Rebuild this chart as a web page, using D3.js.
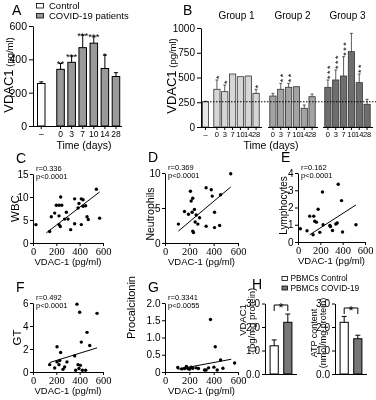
<!DOCTYPE html>
<html>
<head>
<meta charset="utf-8">
<script src="https://cdn.jsdelivr.net/npm/d3@7"></script>
<style>
  body { margin: 0; background: #fff; }
  svg { display: block; will-change: transform; }
</style>
</head>
<body>
<div id="chart"></div>
<script>
(function() {

    // ---- Panel A: VDAC1 in serum, control vs patients over time
    const daysA = ["0", "3", "7", "10", "14", "28"];
    const controlA = 255, controlAErr = 10;
    const vdacA = [340, 382, 470, 497, 345, 297];
    const vdacAErr = [35, 38, 75, 38, 80, 23];
    const starsA = ["**", "***", "***", "***", "*", ""];

    // ---- Panel B: same split into three groups
    const daysB = ["0", "3", "7", "10", "14", "28"];
    const controlB = 255, controlBErr = 5;
    const groupNames = ["Group 1", "Group 2", "Group 3"];
    const group1 = [381, 357, 535, 508, 515, 340];
    const group1Err = [94, 67, 0, 0, 0, 41];
    const group1Stars = [1, 1, 0, 0, 0, 1];
    const group2 = [313, 381, 401, 407, 189, 306];
    const group2Err = [27, 60, 40, 0, 33, 27];
    const group2Stars = [0, 2, 2, 0, 0, 0];
    const group3 = [401, 475, 515, 761, 448, 229];
    const group3Err = [74, 101, 195, 185, 87, 51];
    const group3Stars = [3, 3, 3, 0, 2, 0];

    // ---- Panels C-G: correlations with VDAC-1 (pg/ml)
    const cX = [25, 143, 157, 186, 200, 223, 246, 237, 223, 223, 234, 271, 286, 300, 323, 357, 357, 386, 394, 414, 429, 429, 414, 451, 463, 474, 543, 571];
    const cY = [4.0, 2.5, 5.7, 6.5, 8.2, 8.2, 8.2, 10.0, 5.9, 4.0, 3.6, 5.2, 6.7, 5.2, 2.9, 4.2, 9.6, 7.6, 8.6, 9.6, 9.4, 8.0, 4.0, 8.1, 5.7, 5.1, 11.7, 5.4];
    const cFit = [[114, 2.2], [571, 11.1]];

    const dX = [110, 160, 193, 209, 215, 228, 223, 242, 228, 234, 256, 248, 270, 284, 338, 338, 380, 388, 407, 407, 449, 457, 540];
    const dY = [2.7, 4.5, 4.1, 7.4, 6.0, 6.4, 4.4, 4.8, 1.7, 1.5, 4.0, 3.0, 2.7, 3.6, 2.4, 7.9, 7.6, 6.7, 4.4, 2.2, 2.5, 6.9, 9.9];
    const dFit = [[110, 1.7], [540, 8.0]];

    const eX = [21, 81, 135, 105, 141, 150, 165, 180, 195, 219, 225, 285, 290, 309, 339, 351, 360, 390, 399, 519];
    const eY = [0.77, 0.65, 0.42, 1.5, 1.5, 1.2, 1.15, 1.9, 0.56, 2.9, 1.0, 0.96, 0.9, 0.67, 1.04, 1.1, 3.35, 2.4, 0.58, 1.0];
    const eFit = [[105, 0.42], [519, 2.15]];

    const fX = [143, 186, 206, 206, 223, 229, 237, 257, 271, 291, 357, 366, 377, 386, 400, 406, 414, 423, 451, 463, 486, 549, 394];
    const fY = [0.64, 0.35, 2.2, 0.88, 0.64, 1.0, 1.7, 0.23, 0.44, 0.88, 1.4, 0.15, 5.9, 0.64, 5.2, 0.58, 2.6, 0.15, 0.15, 3.45, 2.3, 5.1, 0.3];
    const fFit = [[143, 0.82], [549, 2.1]];

    const gX = [105, 138, 160, 176, 187, 201, 215, 228, 256, 275, 325, 338, 358, 374, 402, 413, 429, 457, 476, 572];
    const gY = [0.13, 0.09, 0.10, 0.16, 0.10, 0.08, 0.14, 0.11, 0.12, 0.10, 0.06, 0.06, 0.12, 1.52, 0.14, 0.73, 0.06, 0.35, 0.11, 0.26];
    const gFit = [[105, 0.08], [545, 0.37]];

    // ---- Panel H: PBMCs
    const pbmcGroups = ["PBMCs Control", "PBMCs COVID-19"];
    const vdacH = [1.2, 2.2];
    const vdacHErr = [0.25, 0.35];
    const atpH = [2.2, 1.5];
    const atpHErr = [0.25, 0.15];

    const SANS = "'Liberation Sans', Arial, sans-serif";
    const SERIF = "'Liberation Serif', 'Times New Roman', serif";
    const greyA = "#9a9a9a";
    const groupFill = ["#d6d6d6", "#a3a3a3", "#6e6e6e"];

    let svg = d3.select("#chart").append("svg")
        .attr("width", 376)
        .attr("height", 400)
        .style("font-family", SANS);

    function styleAxis(g, size, family) {
        g.attr("font-family", family || SANS).attr("font-size", size);
        g.selectAll("path, line").attr("stroke", "#000");
        g.selectAll("text").attr("fill", "#000");
    }

    function errBar(g, cx, yVal, yTop, cap) {
        g.append("line").attr("x1", cx).attr("x2", cx).attr("y1", yVal).attr("y2", yTop);
        g.append("line").attr("x1", cx - cap / 2).attr("x2", cx + cap / 2).attr("y1", yTop).attr("y2", yTop);
    }

    function letter(txt, x, y) {
        svg.append("text").attr("x", x).attr("y", y)
            .attr("font-size", 14).text(txt);
    }

    function yTitle(x, y, big, small, bigSize, smallSize) {
        let t = svg.append("text")
            .attr("transform", `translate(${x},${y}) rotate(-90)`)
            .attr("text-anchor", "middle")
            .attr("dy", "0.35em");
        t.append("tspan").attr("font-size", bigSize).text(big);
        if (small) t.append("tspan").attr("font-size", smallSize).text(" " + small);
    }

    // ================= A =================
    let yA = d3.scaleLinear().domain([0, 600]).range([126, 26]);
    let xA = d3.scaleBand().domain(daysA).range([55, 121.5]).paddingInner(0.32).paddingOuter(0.16);
    let xAc = d3.scaleBand().domain(["–"]).range([37.5, 45]);

    letter("A", 12, 15);

    // legend
    svg.append("rect").attr("x", 36.5).attr("y", 3.5).attr("width", 7).attr("height", 4.5)
        .attr("fill", "#fff").attr("stroke", "#000").attr("stroke-width", 0.8);
    svg.append("rect").attr("x", 36.5).attr("y", 13.5).attr("width", 7).attr("height", 4.5)
        .attr("fill", greyA).attr("stroke", "#000").attr("stroke-width", 0.8);
    svg.append("text").attr("x", 49).attr("y", 8.5).attr("font-size", 9.5).text("Control");
    svg.append("text").attr("x", 49).attr("y", 18.5).attr("font-size", 9.5).text("COVID-19 patients");

    let gA = svg.append("g").attr("stroke", "#000").attr("stroke-width", 1);
    gA.append("rect")
        .attr("x", xAc("–")).attr("y", yA(controlA))
        .attr("width", xAc.bandwidth()).attr("height", yA(0) - yA(controlA))
        .attr("fill", "#fff");
    errBar(gA, xAc("–") + xAc.bandwidth() / 2, yA(controlA), yA(controlA + controlAErr), 4);

    gA.selectAll("rect.pat").data(daysA).enter().append("rect")
        .attr("class", "pat")
        .attr("x", d => xA(d))
        .attr("y", (d, i) => yA(vdacA[i]))
        .attr("width", xA.bandwidth())
        .attr("height", (d, i) => yA(0) - yA(vdacA[i]))
        .attr("fill", greyA);
    daysA.forEach((d, i) => {
        let cx = xA(d) + xA.bandwidth() / 2;
        errBar(gA, cx, yA(vdacA[i]), yA(vdacA[i] + vdacAErr[i]), 4);
        if (starsA[i]) {
            svg.append("text").attr("x", cx).attr("y", yA(vdacA[i] + vdacAErr[i]) + 3.5)
                .attr("text-anchor", "middle").attr("font-size", 9.5).text(starsA[i]);
        }
    });

    svg.append("g").attr("transform", "translate(33,0)")
        .call(d3.axisLeft(yA).tickValues([0, 200, 400, 600]).tickSize(4).tickSizeOuter(0).tickPadding(2))
        .call(g => styleAxis(g, 10.5));
    svg.append("line").attr("x1", 33).attr("x2", 122).attr("y1", yA(0) + 0.5).attr("y2", yA(0) + 0.5).attr("stroke", "#000");
    svg.append("g").attr("transform", `translate(0,${yA(0)})`)
        .call(d3.axisBottom(xA).tickSize(3).tickPadding(2))
        .call(g => g.select(".domain").remove())
        .call(g => styleAxis(g, 8.5));
    svg.append("g").attr("transform", `translate(0,${yA(0)})`)
        .call(d3.axisBottom(xAc).tickSize(3).tickPadding(2))
        .call(g => g.select(".domain").remove())
        .call(g => styleAxis(g, 8.5));

    yTitle(7, 75, "VDAC1", "(pg/ml)", 13, 9.5);
    svg.append("text").attr("x", 84).attr("y", 148.5).attr("text-anchor", "middle")
        .attr("font-size", 10.5).text("Time (days)");

    // ================= B =================
    let yB = d3.scaleLinear().domain([0, 1000]).range([127, 28]);
    let xBc = d3.scaleBand().domain(["–"]).range([202.5, 208.5]);
    const groupRanges = [[213, 260], [269, 316], [324, 371]];
    const groupVals = [group1, group2, group3];
    const groupErrs = [group1Err, group2Err, group3Err];
    const groupStars = [group1Stars, group2Stars, group3Stars];

    letter("B", 183, 15);

    let gB = svg.append("g").attr("stroke", "#333").attr("stroke-width", 0.8);
    gB.append("rect")
        .attr("x", xBc("–")).attr("y", yB(controlB))
        .attr("width", xBc.bandwidth()).attr("height", yB(0) - yB(controlB))
        .attr("fill", "#e8e8e8");
    errBar(gB, xBc("–") + xBc.bandwidth() / 2, yB(controlB), yB(controlB + controlBErr), 3);

    groupVals.forEach((vals, k) => {
        let xg = d3.scaleBand().domain(daysB).range(groupRanges[k]).paddingInner(0.2).paddingOuter(0.1);
        gB.selectAll(`rect.g${k}`).data(daysB).enter().append("rect")
            .attr("class", `g${k}`)
            .attr("x", d => xg(d))
            .attr("y", (d, i) => yB(vals[i]))
            .attr("width", xg.bandwidth())
            .attr("height", (d, i) => yB(0) - yB(vals[i]))
            .attr("fill", groupFill[k]);
        daysB.forEach((d, i) => {
            let cx = xg(d) + xg.bandwidth() / 2;
            let top = yB(vals[i] + groupErrs[k][i]);
            if (groupErrs[k][i] > 0) errBar(gB, cx, yB(vals[i]), top, 3);
            let n = groupStars[k][i];
            if (n > 0) {
                // stars stacked upwards: one rotated string
                svg.append("text")
                    .attr("transform", `translate(${cx},${top - 1}) rotate(-90)`)
                    .attr("dy", "0.575em")
                    .attr("font-size", 9)
                    .attr("letter-spacing", 1.5)
                    .text("*".repeat(n));
            }
        });
        // axis segment for this group
        let x0 = k === 0 ? 201 : groupRanges[k][0] - 1;
        svg.append("line").attr("x1", x0).attr("x2", groupRanges[k][1] + 2)
            .attr("y1", yB(0) + 0.5).attr("y2", yB(0) + 0.5).attr("stroke", "#000");
        svg.append("g").attr("transform", `translate(0,${yB(0)})`)
            .call(d3.axisBottom(xg).tickSize(3).tickPadding(2))
            .call(g => g.select(".domain").remove())
            .call(g => styleAxis(g, 7.5));
        svg.append("text")
            .attr("x", (groupRanges[k][0] + groupRanges[k][1]) / 2).attr("y", 19)
            .attr("text-anchor", "middle").attr("font-size", 10).text(groupNames[k]);
    });
    svg.append("g").attr("transform", `translate(0,${yB(0)})`)
        .call(d3.axisBottom(xBc).tickSize(3).tickPadding(2))
        .call(g => g.select(".domain").remove())
        .call(g => styleAxis(g, 7.5));

    svg.append("line")
        .attr("x1", 201).attr("x2", 376)
        .attr("y1", yB(controlB)).attr("y2", yB(controlB))
        .attr("stroke", "#000").attr("stroke-dasharray", "1.5,1.5");

    svg.append("g").attr("transform", "translate(201,0)")
        .call(d3.axisLeft(yB).tickValues([0, 250, 500, 750, 1000]).tickSize(4).tickSizeOuter(0).tickPadding(2)
            .tickFormat(d3.format("d")))
        .call(g => styleAxis(g, 10));

    yTitle(170, 76, "VDAC1", "(pg/ml)", 13, 9.5);
    svg.append("text").attr("x", 271).attr("y", 148.5).attr("text-anchor", "middle")
        .attr("font-size", 10.5).text("Time (days)");

    // ================= C-G scatter panels =================
    function scatter(o) {
        let x = d3.scaleLinear().domain([0, 600]).range([o.left, o.left + o.w]);
        let y = d3.scaleLinear().domain([0, o.ymax]).range([o.bottom, o.top]);

        svg.append("g").attr("transform", `translate(${o.left},0)`)
            .call(d3.axisLeft(y).tickValues(o.yticks).tickSize(3).tickSizeOuter(0).tickPadding(1.5)
                .tickFormat(o.fmt || d3.format("d")))
            .call(g => styleAxis(g, 10));
        svg.append("g").attr("transform", `translate(0,${o.bottom})`)
            .call(d3.axisBottom(x).tickValues([0, 200, 400, 600]).tickSize(3).tickSizeOuter(0).tickPadding(2))
            .call(g => styleAxis(g, 10.5, SERIF));

        svg.append("g").selectAll("circle")
            .data(d3.zip(o.xs, o.ys))
            .enter().append("circle")
            .attr("cx", d => x(d[0]))
            .attr("cy", d => y(d[1]))
            .attr("r", 1.7)
            .attr("fill", "#000");

        svg.append("line")
            .attr("x1", x(o.fit[0][0])).attr("y1", y(o.fit[0][1]))
            .attr("x2", x(o.fit[1][0])).attr("y2", y(o.fit[1][1]))
            .attr("stroke", "#000").attr("stroke-width", 1);

        svg.append("text").attr("x", o.left + 3).attr("y", o.top - 3.5).attr("font-size", 7.5).text(o.r);
        svg.append("text").attr("x", o.left + 3).attr("y", o.top + 4.5).attr("font-size", 7.5).text(o.p);

        letter(o.letter, o.left - 17, o.top - 11);
        svg.append("text").attr("x", o.left + o.w / 2).attr("y", o.bottom + 22)
            .attr("text-anchor", "middle").attr("font-size", 9.5).text("VDAC-1 (pg/ml)");
        yTitle(o.left - o.ylabOff, (o.top + o.bottom) / 2 + (o.ylabShift || 0), o.ylab, null, o.ylabSize, 0);
    }

    scatter({ letter: "C", left: 33, w: 70, top: 174, bottom: 243, ymax: 15, yticks: [0, 5, 10, 15],
        xs: cX, ys: cY, fit: cFit, r: "r=0.336", p: "p<0.0001", ylab: "WBC", ylabOff: 20, ylabSize: 11.5 });
    scatter({ letter: "D", left: 165, w: 73, top: 173, bottom: 243, ymax: 10, yticks: [0, 5, 10],
        xs: dX, ys: dY, fit: dFit, r: "r=0.369", p: "p<0.0001", ylab: "Neutrophils", ylabOff: 17, ylabSize: 10.5, ylabShift: 6 });
    scatter({ letter: "E", left: 298, w: 67, top: 173, bottom: 242, ymax: 4, yticks: [0, 1, 2, 3, 4],
        xs: eX, ys: eY, fit: eFit, r: "r=0.162", p: "p<0.0001", ylab: "Lymphocytes", ylabOff: 17, ylabSize: 10, ylabShift: -2 });
    scatter({ letter: "F", left: 33, w: 70, top: 303, bottom: 372, ymax: 6, yticks: [0, 2, 4, 6],
        xs: fX, ys: fY, fit: fFit, r: "r=0.492", p: "p<0.0001", ylab: "GT", ylabOff: 18, ylabSize: 11.5 });
    scatter({ letter: "G", left: 165, w: 73, top: 303, bottom: 372, ymax: 2, yticks: [0, 0.5, 1, 1.5, 2],
        fmt: d => d === 0 ? "0" : d3.format(".1f")(d),
        xs: gX, ys: gY, fit: gFit, r: "r=0.3341", p: "p<0.0055", ylab: "Procalcitonin", ylabOff: 36, ylabSize: 11, ylabShift: -30 });

    // ================= H =================
    let yH = d3.scaleLinear().domain([0, 3]).range([374, 303.5]);
    letter("H", 252, 289);

    svg.append("rect").attr("x", 282).attr("y", 276.5).attr("width", 5.5).attr("height", 4)
        .attr("fill", "#fff").attr("stroke", "#000").attr("stroke-width", 0.8);
    svg.append("rect").attr("x", 282).attr("y", 286).attr("width", 5.5).attr("height", 4)
        .attr("fill", "#777").attr("stroke", "#000").attr("stroke-width", 0.8);
    pbmcGroups.forEach((name, i) => {
        svg.append("text").attr("x", 290.5).attr("y", 281 + i * 9.5)
            .attr("font-size", 8.3).text(name);
    });

    function pbmcPanel(left, vals, errs, bracketY, title1, title2, titleX, titleY, titleSize) {
        let x = d3.scaleBand().domain(pbmcGroups).range([left + 1, left + 31]).paddingInner(0.4).paddingOuter(0.3);
        let g = svg.append("g").attr("stroke", "#000").attr("stroke-width", 1);
        g.selectAll("rect").data(pbmcGroups).enter().append("rect")
            .attr("x", d => x(d))
            .attr("y", (d, i) => yH(vals[i]))
            .attr("width", x.bandwidth())
            .attr("height", (d, i) => yH(0) - yH(vals[i]))
            .attr("fill", (d, i) => i === 0 ? "#fff" : "#777");
        pbmcGroups.forEach((d, i) => {
            let cx = x(d) + x.bandwidth() / 2;
            errBar(g, cx, yH(vals[i]), yH(vals[i] + errs[i]), 5);
        });
        let c0 = x(pbmcGroups[0]) + x.bandwidth() / 2, c1 = x(pbmcGroups[1]) + x.bandwidth() / 2;
        svg.append("path")
            .attr("d", `M${c0},${bracketY + 6}V${bracketY}H${c1}V${bracketY + 6}`)
            .attr("fill", "none").attr("stroke", "#000");
        svg.append("text").attr("x", (c0 + c1) / 2).attr("y", bracketY + 7)
            .attr("text-anchor", "middle").attr("font-size", 13).text("*");

        svg.append("g").attr("transform", `translate(${left},0)`)
            .call(d3.axisLeft(yH).tickValues([0, 1, 2, 3]).tickSize(3).tickSizeOuter(0).tickPadding(2))
            .call(g => styleAxis(g, 10));
        svg.append("line").attr("x1", left).attr("x2", left + 32)
            .attr("y1", yH(0) + 0.5).attr("y2", yH(0) + 0.5).attr("stroke", "#000");

        yTitle(titleX, titleY, title1, null, titleSize, 0);
        yTitle(titleX + 9, titleY, title2, null, titleSize, 0);
    }

    pbmcPanel(265, vdacH, vdacHErr, 305, "VDAC1", "(pg/mg protein)", 240, 320, 9.5);
    pbmcPanel(335, atpH, atpHErr, 308, "ATP content", "(nmol/mg protein)", 311.5, 333, 9);

})();
</script>
</body>
</html>
